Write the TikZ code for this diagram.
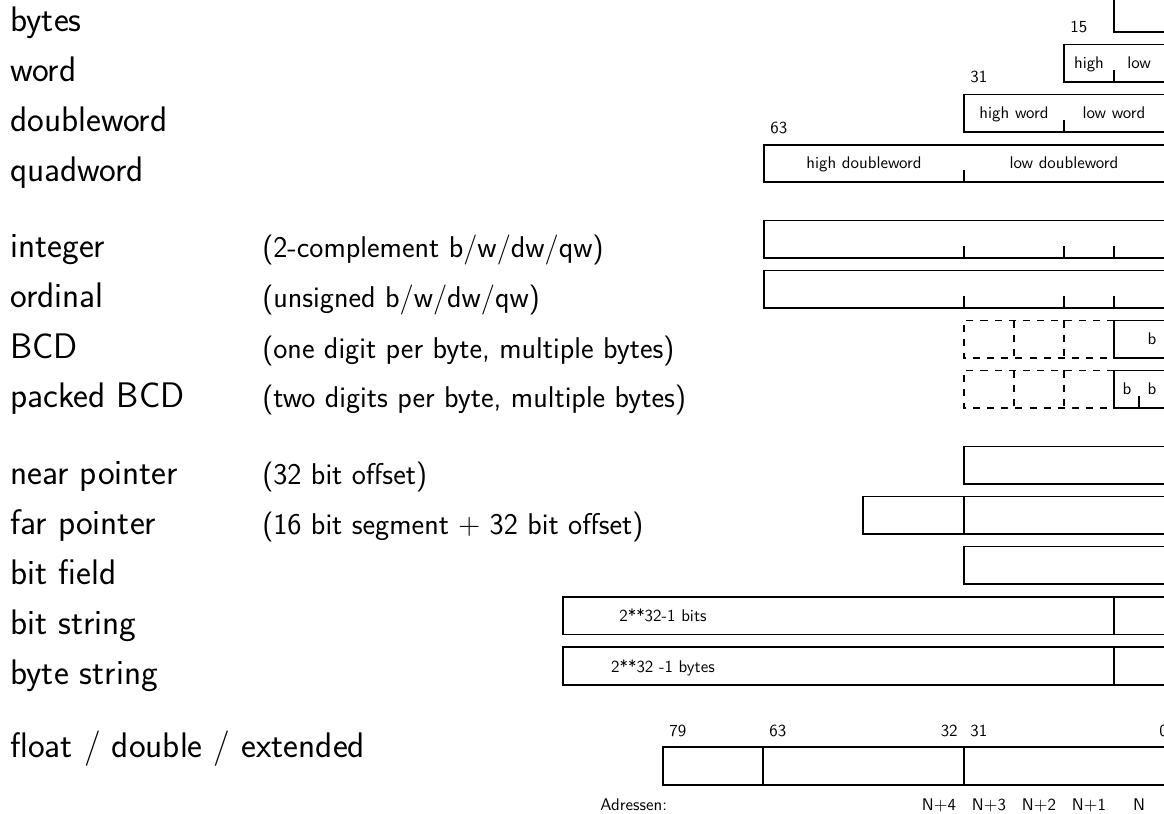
\documentclass[tikz,border=0pt]{standalone}
\usepackage{tikz}
\renewcommand{\familydefault}{\sfdefault}

\begin{document}
\begin{tikzpicture}[
    x=0.02cm, y=-0.02cm,
    lbl/.style   = {font=\fontsize{20.2}{24}\selectfont, anchor=base west, inner sep=0pt},
    dsc/.style   = {font=\fontsize{17.1}{20}\selectfont, anchor=base west, inner sep=0pt},
    fld/.style   = {font=\fontsize{9.6}{11}\selectfont, anchor=base, inner sep=0pt},
    bitno/.style = {fld, anchor=base west},
    reg/.style   = {draw=black, line width=0.7pt},
    nib/.style   = {draw=black, line width=0.7pt, dash pattern=on 4pt off 4pt},
]
\clip (0,0) rectangle (1164,814);
\fill[white] (0,0) rectangle (1164,814);

%======== LEFT: type names and remarks ========
\foreach \t/\y [count=\i] in {bytes/32, word/82, doubleword/132, quadword/182,
    integer/258, ordinal/308, BCD/358, packed BCD/408,
    near pointer/484, far pointer/534, bit field/584, bit string/634, byte string/684}
    \node[lbl] (lab\i) at (10,\y) {\t};
\node[lbl] (labfp) at (10,757) {float / double / extended};

\node[dsc] (dint) at (262,258) {(2-complement b/w/dw/qw)};
\node[dsc] (dord) at (262,308) {(unsigned b/w/dw/qw)};
\node[dsc] (dbcd) at (262,358) {(one digit per byte, multiple bytes)};
\node[dsc] (dpbcd) at (262,408) {(two digits per byte, multiple bytes)};
\node[dsc] (dnear) at (262,484) {(32 bit offset)};
\node[dsc] (dfar) at (262,534) {(16 bit segment $+$ 32 bit offset)};

%======== RIGHT: byte / word / doubleword / quadword ========
% --- byte
\draw[reg] (1114,-5.5) rectangle (1170,32);
% --- word
\draw[reg] (1064,44.5) rectangle (1170,82);
\draw[reg] (1114,82) -- ++(0,-12);
\node[bitno] (b15) at (1070,33) {15};
\node[fld] (whi) at (1089,69) {high};
\node[fld] (wlo) at (1139,69) {low};
% --- doubleword
\draw[reg] (964,94.5) rectangle (1170,132);
\draw[reg] (1064,132) -- ++(0,-12);
\node[bitno] (b31) at (970,83) {31};
\node[fld] (dhi) at (1014,119) {high word};
\node[fld] (dlo) at (1114,119) {low word};
% --- quadword
\draw[reg] (764,145) rectangle (1170,182);
\draw[reg] (964,182) -- ++(0,-12);
\node[bitno] (b63) at (770,133.5) {63};
\node[fld] (qhi) at (864,169) {high doubleword};
\node[fld] (qlo) at (1064,169) {low doubleword};

%======== integer / ordinal / BCD ========
\foreach \b in {258,308} {
  \draw[reg] (764,\b-37.5) rectangle (1170,\b);
  \foreach \x in {964,1064,1114} \draw[reg] (\x,\b) -- ++(0,-12);
}
\foreach \b in {358,408} {
  \draw[nib] (1114,\b-37.5) -- (964,\b-37.5) -- (964,\b) -- (1114,\b);
  \foreach \x in {1014,1064} \draw[nib] (\x,\b-37.5) -- (\x,\b);
  \draw[reg] (1114,\b-37.5) rectangle (1170,\b);
}
\node[fld] (bcd) at (1152,345) {b};
\draw[reg] (1139,408) -- ++(0,-12);
\node[fld] (pbhi) at (1127,395) {b};
\node[fld] (pblo) at (1152,395) {b};

%======== pointers and strings ========
\draw[reg] (964,446.5) rectangle (1170,484);
\draw[reg] (863,496.5) rectangle (1170,534);
\draw[reg] (964,496.5) -- (964,534);
\draw[reg] (964,546.5) rectangle (1170,584);
\draw[reg] (563,597) rectangle (1170,634.5);
\draw[reg] (1114,597) -- (1114,634.5);
\node[fld] (bits) at (663,621.5) {2**32-1 bits};
\draw[reg] (563,647) rectangle (1170,685);
\draw[reg] (1114,647) -- (1114,685);
\node[fld] (byts) at (663,672) {2**32 -1 bytes};

%======== float / double / extended ========
\draw[reg] (663,747) rectangle (1170,785);
\foreach \x in {763,964} \draw[reg] (\x,747) -- (\x,785);
\node[bitno] (f79) at (669,736) {79};
\node[bitno] (f63) at (769,736) {63};
\node[fld, anchor=base east] (f32) at (958,736) {32};
\node[bitno] (f31) at (970,736) {31};
\node[bitno] (f0) at (1159,736) {0};

\node[bitno] (adr) at (600,810) {Adressen:};
\foreach \t/\x in {N$+$4/939, N$+$3/989, N$+$2/1039, N$+$1/1089, N/1139}
    \node[fld] (a\x) at (\x,810) {\t};

\end{tikzpicture}
\end{document}
